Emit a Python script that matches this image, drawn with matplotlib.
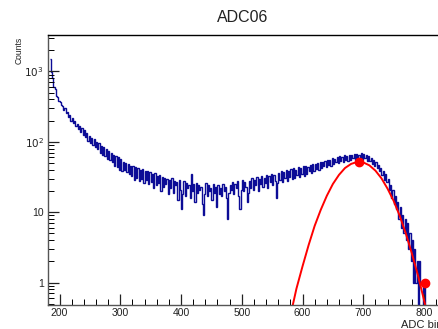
import numpy as np
import matplotlib
matplotlib.use("Agg")
import matplotlib.pyplot as plt
from matplotlib.ticker import FixedLocator, MultipleLocator, NullFormatter

plt.rcParams['font.family'] = ['Liberation Sans', 'DejaVu Sans']

# histogram: 2-unit bins from 184 to 812 (heights)
bin_lo = 184
bin_w = 2
counts = [
    1520, 980, 820, 610, 560, 450, 430, 380, 370, 330,   # 185-203
    320, 285, 300, 258, 262, 226, 240, 200, 218, 184,    # 205-223
    196, 168, 180, 150, 170, 139, 158, 126, 145, 118,    # 225-243
    133, 104, 122, 96, 114, 90, 108, 84, 99, 79,         # 245-263
    95, 70, 88, 66, 84, 62, 79, 57, 75, 55,              # 265-283
    70, 51, 66, 46, 63, 44, 61, 40, 57, 39,              # 285-303
    52, 40, 50, 37, 48, 35, 46, 33, 45, 29,              # 305-323
    44, 31, 42, 28, 40, 30, 41, 26, 38, 29,              # 325-343
    39, 25, 37, 27, 35, 22, 36, 24, 33, 26,              # 345-363
    34, 20, 32, 23, 31, 25, 30, 18, 29, 22,              # 365-383
    31, 19, 28, 24, 27, 15, 29, 21, 11, 18,              # 385-403
    28, 17, 26, 22, 24, 16, 35, 20, 25, 14,              # 405-423
    26, 19, 24, 21, 23, 13, 9, 18, 26, 17,               # 425-443
    24, 20, 22, 15, 25, 19, 23, 12, 24, 18,              # 445-463
    22, 17, 25, 20, 23, 16, 8, 19, 24, 21,               # 465-483
    27, 18, 25, 22, 28, 17, 11, 21, 29, 20,              # 485-503
    27, 23, 14, 19, 28, 22, 31, 21, 29, 24,              # 505-523
    32, 20, 30, 25, 33, 23, 31, 26, 34, 22,              # 525-543
    33, 27, 35, 24, 34, 28, 16, 26, 36, 29,              # 545-563
    38, 27, 37, 31, 40, 28, 39, 32, 41, 30,              # 565-583
    42, 31, 40, 34, 44, 32, 43, 35, 45, 33,              # 585-603
    46, 35, 44, 38, 47, 36, 49, 39, 48, 41,              # 605-623
    50, 40, 52, 43, 51, 45, 54, 44, 56, 47,              # 625-643
    55, 46, 58, 49, 57, 51, 60, 50, 62, 53,              # 645-663
    61, 52, 64, 55, 63, 54, 66, 56, 65, 58,              # 665-683
    67, 55, 68, 57, 66, 59, 69, 56, 67, 58,              # 685-703
    64, 54, 62, 53, 59, 49, 56, 45, 52, 42,              # 705-723
    47, 38, 43, 34, 39, 29, 35, 27, 30, 21,              # 725-743
    24, 16, 21, 13, 17, 11, 14, 8, 12, 6,                # 745-763
    9, 5, 8, 4, 7, 3, 5, 2, 4, 1,                        # 765-783
    3, 1, 2, 0, 2, 1, 1, 0, 1, 0,                        # 785-803
    0, 0, 0, 0,                                          # 805-811
]

fit_x = [584, 590, 600, 610, 620, 630, 640, 650, 660, 670, 680, 690, 693,
         700, 710, 720, 730, 740, 750, 760, 770, 780, 790, 802]
fit_y = [0.48, 0.82, 1.7, 3.4, 6.4, 10.8, 17.1, 25.2, 33.9, 42.5, 48.6, 51.8, 52,
         51.0, 46.4, 39.0, 30.3, 21.6, 14.5, 8.9, 5.0, 2.6, 1.27, 0.48]

# fit range end points
mark_x = [693, 801]
mark_y = [52, 1.0]

title = "ADC06"
xlabel = "ADC bins"
ylabel = "Counts"
xlim = (181, 840)
ylim = (0.48, 3300)

fig = plt.figure(figsize=(4.39, 3.29), dpi=100)
W, H = 439, 329
ax = fig.add_axes([48 / W, 1 - 305 / H, (448.3 - 48) / W, (305 - 35) / H])

edges = bin_lo + bin_w * np.arange(len(counts) + 1)
vals = np.array(counts, dtype=float)
vals = np.where(vals > 0, vals, 1e-3)
ax.stairs(vals, edges, color='#0c0c96', lw=1.0, baseline=None)

ax.plot(fit_x, fit_y, color='red', lw=1.4)
ax.plot(mark_x, mark_y, 'o', color='red', ms=6, mec='red')

ax.set_yscale('log')
ax.set_xlim(*xlim)
ax.set_ylim(*ylim)

for s in ax.spines.values():
    s.set_linewidth(1.0)
    s.set_color('#555555')
ax.spines['top'].set_color('black')

ax.xaxis.set_major_locator(MultipleLocator(100))
ax.xaxis.set_minor_locator(MultipleLocator(20))
ax.yaxis.set_major_locator(FixedLocator([1, 10, 100, 1000]))
ax.set_yticklabels(['1', '10', '$10^{2}$', '$10^{3}$'])
ax.yaxis.set_minor_locator(FixedLocator(
    [m * 10.0 ** e for e in range(-1, 4) for m in range(2, 10)]))
ax.yaxis.set_minor_formatter(NullFormatter())

ax.tick_params(axis='both', which='major', direction='in', length=8, width=0.9,
               labelsize=7.5, colors='#222222', top=False, right=False)
ax.tick_params(axis='both', which='minor', direction='in', length=4, width=0.7,
               top=False, right=False)
ax.tick_params(axis='x', which='major', pad=2.5)
ax.tick_params(axis='y', which='major', pad=3)

fig.text(243 / W, 1 - 17.5 / H, title, ha='center', va='center', fontsize=11.5,
         color='#222222')
fig.text(19 / W, 1 - 37 / H, ylabel, ha='center', va='top', rotation=90,
         fontsize=6.2, color='#222222')
fig.text(401 / W, 1 - 324.5 / H, xlabel, ha='left', va='center', fontsize=8.0,
         color='#222222')

fig.savefig('out.png', dpi=100)
